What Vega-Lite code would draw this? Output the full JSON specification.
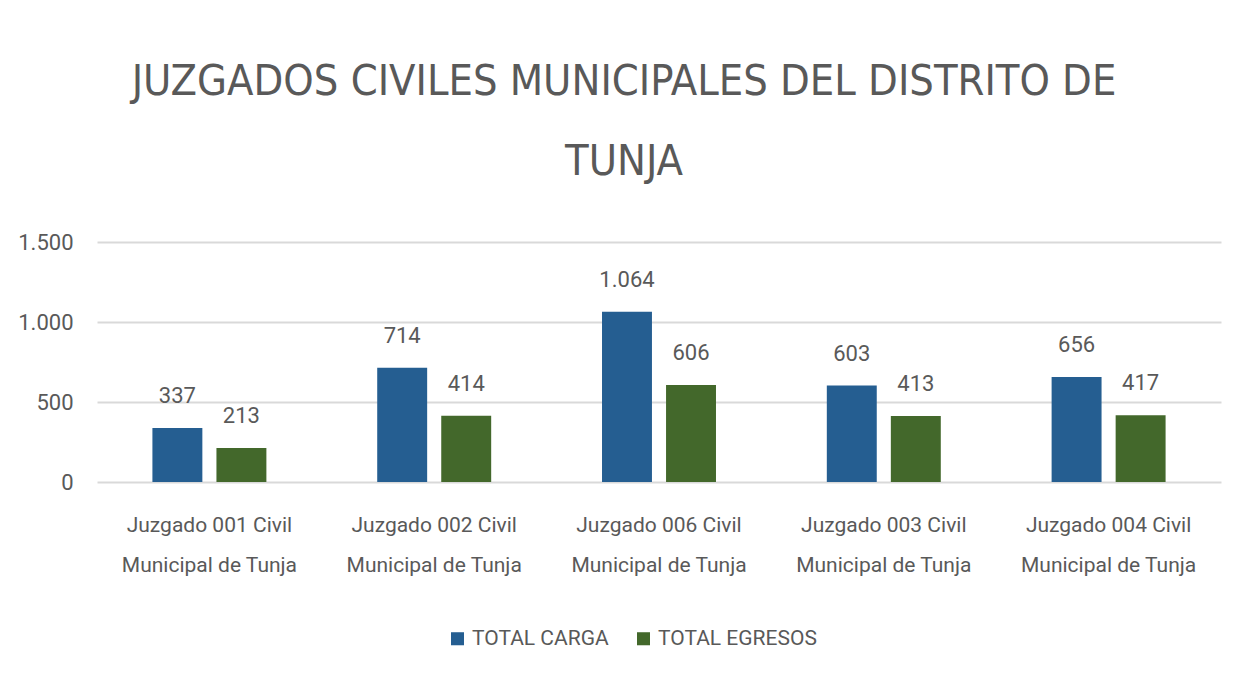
{
  "$schema": "https://vega.github.io/schema/vega-lite/v6.json",
  "width": 1124,
  "height": 240,
  "autosize": {"type": "none"},
  "padding": {"left": 97, "top": 242, "right": 28, "bottom": 210},
  "background": "white",
  "title": {
    "text": ["JUZGADOS CIVILES MUNICIPALES DEL DISTRITO DE", "TUNJA"],
    "font": "DejaVu Sans Condensed, serif",
    "fontSize": 43,
    "fontWeight": "normal",
    "color": "#595959",
    "lineHeight": 80,
    "anchor": "middle",
    "dx": -35,
    "offset": 47
  },
  "data": {
    "values": [
      {"juzgado": "Juzgado 001 Civil Municipal de Tunja", "serie": "TOTAL CARGA", "valor": 337},
      {"juzgado": "Juzgado 001 Civil Municipal de Tunja", "serie": "TOTAL EGRESOS", "valor": 213},
      {"juzgado": "Juzgado 002 Civil Municipal de Tunja", "serie": "TOTAL CARGA", "valor": 714},
      {"juzgado": "Juzgado 002 Civil Municipal de Tunja", "serie": "TOTAL EGRESOS", "valor": 414},
      {"juzgado": "Juzgado 006 Civil Municipal de Tunja", "serie": "TOTAL CARGA", "valor": 1064},
      {"juzgado": "Juzgado 006 Civil Municipal de Tunja", "serie": "TOTAL EGRESOS", "valor": 606},
      {"juzgado": "Juzgado 003 Civil Municipal de Tunja", "serie": "TOTAL CARGA", "valor": 603},
      {"juzgado": "Juzgado 003 Civil Municipal de Tunja", "serie": "TOTAL EGRESOS", "valor": 413},
      {"juzgado": "Juzgado 004 Civil Municipal de Tunja", "serie": "TOTAL CARGA", "valor": 656},
      {"juzgado": "Juzgado 004 Civil Municipal de Tunja", "serie": "TOTAL EGRESOS", "valor": 417}
    ]
  },
  "encoding": {
    "x": {
      "field": "juzgado",
      "type": "nominal",
      "sort": null,
      "scale": {"paddingInner": 0.493, "paddingOuter": 0.2465},
      "axis": {
        "title": null,
        "labelAngle": 0,
        "labelExpr": "[slice(datum.label, 0, 17), slice(datum.label, 18)]",
        "labelFont": "Roboto",
        "labelFontSize": 21,
        "labelLineHeight": 40,
        "labelLimit": 0,
        "labelColor": "#595959",
        "labelPadding": 32,
        "ticks": false,
        "domain": false
      }
    },
    "xOffset": {
      "field": "serie",
      "type": "nominal",
      "scale": {"paddingInner": 0.22, "paddingOuter": 0}
    },
    "y": {
      "field": "valor",
      "type": "quantitative",
      "scale": {"domain": [0, 1500]},
      "axis": {
        "title": null,
        "values": [0, 500, 1000, 1500],
        "labelExpr": "replace(format(datum.value, ','), ',', '.')",
        "labelFont": "Roboto",
        "labelFontSize": 22,
        "labelColor": "#595959",
        "labelPadding": 24,
        "ticks": false,
        "domain": false,
        "gridColor": "#d9d9d9",
        "gridWidth": 2
      }
    }
  },
  "layer": [
    {
      "mark": {"type": "bar"},
      "encoding": {
        "color": {
          "field": "serie",
          "type": "nominal",
          "scale": {"domain": ["TOTAL CARGA", "TOTAL EGRESOS"], "range": ["#255e91", "#43682b"]},
          "legend": {
            "title": null,
            "orient": "none",
            "direction": "horizontal",
            "legendX": 350,
            "legendY": 386,
            "symbolType": "square",
            "symbolSize": 170,
            "symbolStrokeWidth": 0,
            "labelFont": "Roboto",
            "labelFontSize": 21,
            "labelLimit": 0,
            "labelColor": "#595959",
            "columnPadding": 24,
            "labelOffset": 4
          }
        }
      }
    },
    {
      "mark": {
        "type": "text",
        "baseline": "alphabetic",
        "dy": -25,
        "font": "Roboto",
        "fontSize": 22,
        "color": "#595959"
      },
      "encoding": {
        "text": {"field": "valor", "type": "quantitative", "format": ","}
      }
    }
  ],
  "config": {
    "view": {"stroke": null},
    "locale": {"number": {"decimal": ",", "thousands": ".", "grouping": [3], "currency": ["$", ""]}}
  }
}
